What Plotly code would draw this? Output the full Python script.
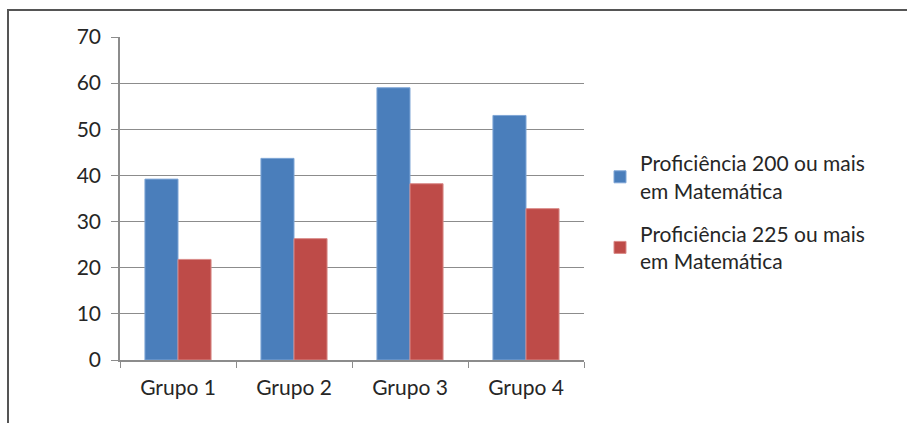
import plotly.graph_objects as go

categories = ["Grupo 1", "Grupo 2", "Grupo 3", "Grupo 4"]
serie_200 = [39.2, 43.7, 59.0, 53.0]
serie_225 = [21.8, 26.3, 38.2, 32.8]
nome_200 = "Proficiência 200 ou mais<br>em Matemática"
nome_225 = "Proficiência 225 ou mais<br>em Matemática"
y_ticks = [0, 10, 20, 30, 40, 50, 60, 70]

W, H = 907, 423
L, R, T, B = 120, 323, 37, 63
pw, ph = W - L - R, H - T - B

def px_x(x):
    return (x - L) / pw

def px_y(y):
    return (H - B - y) / ph

FONT = "Lato"
FS = 21

fig = go.Figure()
fig.add_trace(go.Bar(x=categories, y=serie_200, name=nome_200, legendgroup="a",
                     marker=dict(color="#4a7ebb", line=dict(color="#7fa6d6", width=1))))
fig.add_trace(go.Bar(x=categories, y=serie_225, name=nome_225, legendgroup="b",
                     marker=dict(color="#be4b48", line=dict(color="#d98a88", width=1))))

frame = dict(color="#555555", width=2)
fig.update_layout(
    width=W, height=H,
    margin=dict(l=L, r=R, t=T, b=B, pad=0),
    paper_bgcolor="white", plot_bgcolor="white",
    barmode="group", bargap=0.43, bargroupgap=0,
    font=dict(family=FONT, size=FS, color="#262626"),
    showlegend=True,
    legend=dict(x=px_x(600), y=px_y(143), xanchor="left", yanchor="top",
                font=dict(family=FONT, size=FS, color="#262626"),
                traceorder="grouped", tracegroupgap=13, itemwidth=30,
                bgcolor="rgba(0,0,0,0)"),
    xaxis=dict(showline=True, linecolor="#8c8c8c", linewidth=1.5,
               ticks="outside", tickson="boundaries", ticklen=6, tickcolor="#8c8c8c",
               ticklabelstandoff=8,
               showgrid=False, tickfont=dict(size=FS), fixedrange=True),
    yaxis=dict(range=[0, 70], tickvals=y_ticks, showline=True, linecolor="#8c8c8c",
               linewidth=1.5, ticks="outside", ticklen=7, tickcolor="#8c8c8c",
               ticklabelstandoff=6,
               showgrid=True, gridcolor="#8c8c8c", gridwidth=1.2,
               tickfont=dict(size=FS), zeroline=False, fixedrange=True),
    shapes=[
        dict(type="line", xref="paper", yref="paper",
             x0=px_x(8), x1=px_x(8), y0=px_y(430), y1=px_y(10), line=frame, layer="above"),
        dict(type="line", xref="paper", yref="paper",
             x0=px_x(7), x1=px_x(920), y0=px_y(10), y1=px_y(10), line=frame, layer="above"),
    ],
)

fig.write_html("out.html", config={"displayModeBar": False},
               post_script="document.body.style.margin='0';document.body.style.overflow='hidden';")
